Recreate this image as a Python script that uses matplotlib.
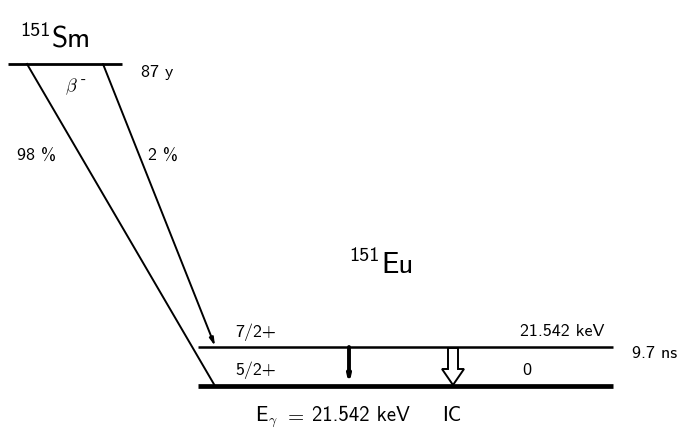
import matplotlib
matplotlib.use("Agg")
import matplotlib.pyplot as plt
from matplotlib.patches import FancyArrow

plt.rcParams["mathtext.fontset"] = "cm"
SANS = "cmss10"

# Decay data: 151Sm -> 151Eu
parent = "Sm"
daughter = "Eu"
mass = 151
half_life = "87 y"
branch_pct = [98, 2]              # beta feeding to ground state / first excited state
level_spins = ["5/2+", "7/2+"]
level_energy_kev = [0.0, 21.542]
level_lifetime = ["", "9.7 ns"]
gamma_kev = 21.542

fig = plt.figure(figsize=(6.83, 4.29), dpi=100)
ax = fig.add_axes([0, 0, 1, 1])
ax.set_xlim(0, 683)
ax.set_ylim(429, 0)
ax.axis("off")


def label(x, y, s, size=13, **kw):
    kw.setdefault("va", "baseline")
    kw.setdefault("ha", "left")
    return ax.text(x, y, s, fontsize=size, family=SANS, **kw)


# vertical positions of the levels (drawing units)
y_parent = 64
y_levels = [386, 347]
x_left, x_right = 198, 613

# parent level
ax.plot([8, 122], [y_parent, y_parent], color="black", lw=2, solid_capstyle="butt")
label(20, 36, str(mass), size=14.5)
label(52, 47, parent, size=21)
label(141, 77, half_life)
ax.text(65, 91, r"$\beta$", fontsize=13, va="baseline", ha="left")
label(81, 84, "-", size=11)

# daughter levels
ax.plot([x_left, x_right], [y_levels[0]] * 2, color="black", lw=3.4, solid_capstyle="butt")
ax.plot([x_left, x_right], [y_levels[1]] * 2, color="black", lw=1.8, solid_capstyle="butt")
label(349, 261, str(mass), size=14.5)
label(381, 273, daughter, size=21)

label(235, 337, level_spins[1])
label(235, 375, level_spins[0])
label(604, 336, "%.3f keV" % level_energy_kev[1], ha="right")
label(522, 375, "%g" % level_energy_kev[0])
label(632, 358, level_lifetime[1])

# beta branches: the ground-state branch ends on the thick level line
starts = [27, 103]
x_end = 215
ax.plot([starts[0], x_end], [y_parent, y_levels[0]], color="black", lw=1.4)
ax.annotate("", xy=(x_end, y_levels[1] - 1), xytext=(starts[1], y_parent),
            arrowprops=dict(arrowstyle="-|>,head_length=0.45,head_width=0.12",
                            color="black", lw=1.4, shrinkA=0, shrinkB=0))
label(17, 161, "%d %%" % branch_pct[0])
label(148, 161, "%d %%" % branch_pct[1])

# gamma transition
x_gamma = 349
ax.annotate("", xy=(x_gamma, y_levels[0] - 1), xytext=(x_gamma, y_levels[1]),
            arrowprops=dict(arrowstyle="-|>,head_length=0.35,head_width=0.08",
                            color="black", lw=2.8, shrinkA=0, shrinkB=0))

# internal conversion (open arrow)
x_ic = 453
ax.add_patch(FancyArrow(x_ic, y_levels[1] + 1, 0, y_levels[0] - y_levels[1] - 2,
                        width=10, head_width=22, head_length=16,
                        length_includes_head=True, facecolor="white",
                        edgecolor="black", lw=1.4, zorder=3))

y_bot = 421
label(255, y_bot, "E", size=15)
ax.text(268, y_bot + 3, r"$\gamma$", fontsize=10, va="baseline", ha="left")
ax.text(284, y_bot, r"$=$", fontsize=15, va="baseline", ha="left")
label(312, y_bot, "%.3f keV" % gamma_kev, size=15)
label(442, y_bot, "IC", size=15)

fig.savefig("out.png", dpi=100)
